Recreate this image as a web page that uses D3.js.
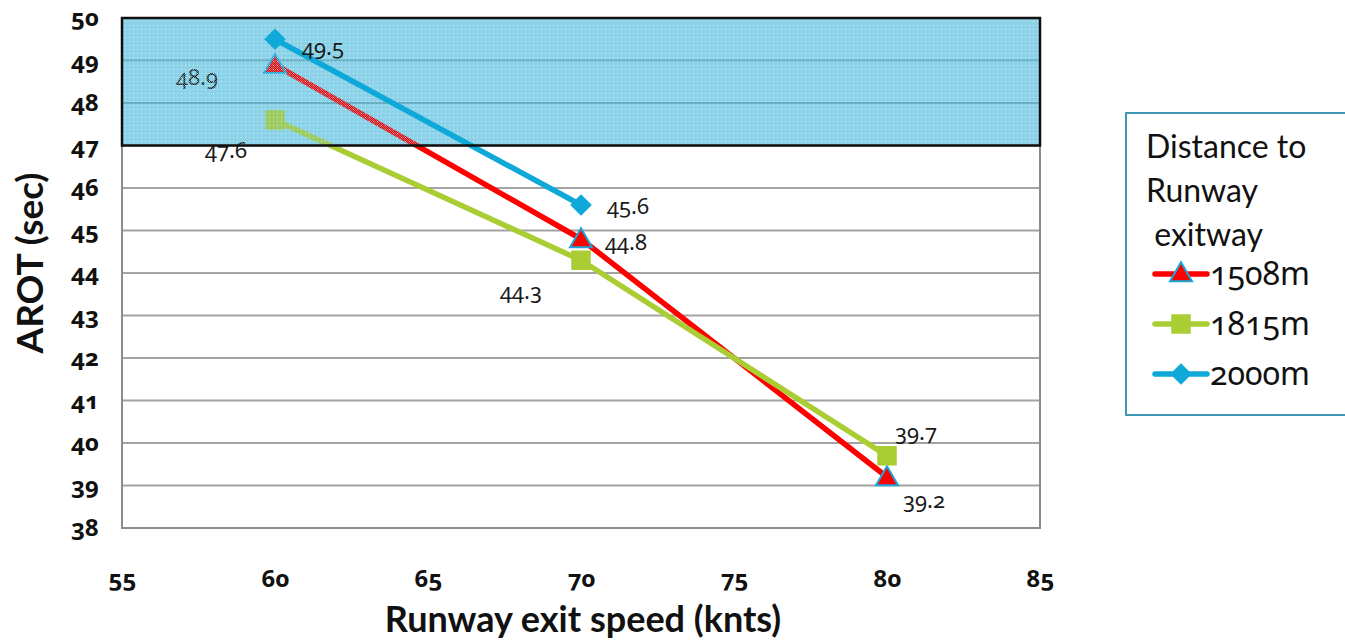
<!DOCTYPE html>
<html>
<head>
<meta charset="utf-8">
<script src="https://cdn.jsdelivr.net/npm/d3@7"></script>
<style>
  html, body { margin: 0; padding: 0; background: #fff; }
  svg { display: block; font-family: Lato, "Open Sans", "Noto Sans", sans-serif; }
  .num { font-family: "Noto Sans", "Open Sans", Lato, sans-serif; font-feature-settings: "onum" 1; font-variant-numeric: oldstyle-nums; }
</style>
</head>
<body>
<svg id="chart" width="1345" height="640"></svg>
<script>
// Runway exit speed (knots) on the x axis
const speeds = [60, 70, 80];
// AROT values (seconds) per distance to runway exitway
const seriesNames = ["1508m", "1815m", "2000m"];
const arot1508 = [48.9, 44.8, 39.2];
const arot1815 = [47.6, 44.3, 39.7];
const arot2000 = [49.5, 45.6];
// Axis ticks
const xTicks = [55, 60, 65, 70, 75, 80, 85];
const yTicks = [38, 39, 40, 41, 42, 43, 44, 45, 46, 47, 48, 49, 50];
// Highlighted band (seconds)
const bandRange = [47, 50];
const legendTitle = ["Distance to", "Runway", " exitway"];

const seriesValues = [arot1508, arot1815, arot2000];
const colors = ["#ff0000", "#a9cd32", "#0ea9d9"];
const symbols = [d3.symbolTriangle, d3.symbolSquare, d3.symbolDiamond2];
const symbolSizes = [210, 380, 300];
// label offsets (dx, dy) relative to each point
const labelOffsets = [
  [[-99, 20], [24, 11], [16, 31]],
  [[-70, 38], [-81, 39], [8, -16]],
  [[27, 16], [26, 9]]
];

const svg = d3.select("#chart");
const plotL = 122, plotR = 1040, plotT = 18, plotB = 528;
const x = d3.scaleLinear().domain([55, 85]).range([plotL, plotR]);
const y = d3.scaleLinear().domain([38, 50]).range([plotB, plotT]);
const bandY0 = y(bandRange[1]), bandY1 = y(bandRange[0]);

// band background
svg.append("rect").attr("x", plotL).attr("y", bandY0)
  .attr("width", plotR - plotL).attr("height", bandY1 - bandY0)
  .attr("fill", "#93d6ea");

// grid lines
svg.append("g").selectAll("line").data(yTicks.filter(v => v > 38 && v < 50)).join("line")
  .attr("x1", plotL).attr("x2", plotR)
  .attr("y1", d => y(d)).attr("y2", d => y(d))
  .attr("stroke", d => (d > bandRange[0] ? "#62a6b8" : "#a3a3a3")).attr("stroke-width", 2);

// plot frame
svg.append("rect").attr("x", plotL).attr("y", plotT)
  .attr("width", plotR - plotL).attr("height", plotB - plotT)
  .attr("fill", "none").attr("stroke", "#8c8c8c").attr("stroke-width", 2);

// y ticks
const yAxis = d3.axisLeft(y).tickValues(yTicks).tickSize(0).tickPadding(23).tickFormat(d3.format("d"));
const gy = svg.append("g").attr("transform", `translate(${plotL},0)`).call(yAxis);
gy.select(".domain").remove();
gy.selectAll("text").attr("class", "num").attr("font-size", 24).attr("font-weight", "bold").attr("fill", "#111");

// x ticks
const xAxis = d3.axisBottom(x).tickValues(xTicks).tickSize(0).tickPadding(42).tickFormat(d3.format("d"));
const gx = svg.append("g").attr("transform", `translate(0,${plotB})`).call(xAxis);
gx.select(".domain").remove();
gx.selectAll("text").attr("class", "num").attr("font-size", 24).attr("font-weight", "bold").attr("fill", "#111");

// axis titles
svg.append("text").attr("x", 583).attr("y", 632).attr("text-anchor", "middle")
  .attr("font-size", 36).attr("font-weight", "bold").attr("fill", "#111")
  .text("Runway exit speed (knts)");
svg.append("text").attr("transform", "translate(43,263) rotate(-90)").attr("text-anchor", "middle")
  .attr("font-size", 37).attr("font-weight", "bold").attr("fill", "#111")
  .text("AROT (sec)");

// series lines, markers and labels
const line = d3.line().x((d, i) => x(speeds[i])).y(d => y(d));
function drawSeries(s) {
  const vals = seriesValues[s];
  svg.append("path").datum(vals).attr("d", line)
    .attr("fill", "none").attr("stroke", colors[s]).attr("stroke-width", 5.5)
    .attr("stroke-linejoin", "round");
  svg.append("g").selectAll("path").data(vals).join("path")
    .attr("transform", (d, i) => `translate(${x(speeds[i])},${y(d) + (s === 0 ? 2 : 0)})`)
    .attr("d", d3.symbol().type(symbols[s]).size(symbolSizes[s]))
    .attr("fill", colors[s])
    .attr("stroke", s === 0 ? "#1aa6d6" : "none").attr("stroke-width", 2);
  svg.append("g").selectAll("text").data(vals).join("text")
    .attr("class", "num")
    .attr("x", (d, i) => x(speeds[i]) + labelOffsets[s][i][0])
    .attr("y", (d, i) => y(d) + labelOffsets[s][i][1])
    .attr("font-size", 22).attr("fill", "#1a1a1a")
    .text(d => d.toFixed(1));
}
drawSeries(0);
drawSeries(1);

// dotted overlay on the band
const defs = svg.append("defs");
const pat = defs.append("pattern").attr("id", "dots").attr("patternUnits", "userSpaceOnUse")
  .attr("width", 4).attr("height", 4);
[[0,0],[2,0],[1,1],[3,1],[0,2],[2,2],[1,3],[3,3]].forEach(([px, py]) =>
  pat.append("rect").attr("x", px).attr("y", py).attr("width", 1).attr("height", 1).attr("fill", "rgba(120,200,228,0.55)"));
pat.append("rect").attr("x", 1).attr("y", 1).attr("width", 1).attr("height", 1).attr("fill", "rgba(235,248,252,0.7)");
svg.append("rect")
  .attr("x", x(55)).attr("y", bandY0)
  .attr("width", x(85) - x(55)).attr("height", bandY1 - bandY0)
  .attr("fill", "url(#dots)");

drawSeries(2);

// band outline
svg.append("rect")
  .attr("x", x(55)).attr("y", bandY0)
  .attr("width", x(85) - x(55)).attr("height", bandY1 - bandY0)
  .attr("fill", "none").attr("stroke", "#111").attr("stroke-width", 2.5);

// legend
const lg = svg.append("g");
lg.append("rect").attr("x", 1126).attr("y", 113).attr("width", 240).attr("height", 302)
  .attr("fill", "#fff").attr("stroke", "#3f97b3").attr("stroke-width", 2);
lg.selectAll("text.title").data(legendTitle).join("text").attr("class", "title")
  .attr("x", 1146).attr("y", (d, i) => 158 + i * 44)
  .attr("font-size", 32).attr("fill", "#111").attr("xml:space", "preserve")
  .style("white-space", "pre").text(d => d);
seriesNames.forEach((name, s) => {
  const ly = 274 + s * 50;
  lg.append("line").attr("x1", 1155).attr("x2", 1207).attr("y1", ly).attr("y2", ly)
    .attr("stroke", colors[s]).attr("stroke-width", 5.5).attr("stroke-linecap", "round");
  lg.append("path").attr("transform", `translate(1181,${ly + (s === 0 ? 1 : 0)})`)
    .attr("d", d3.symbol().type(symbols[s]).size(symbolSizes[s]))
    .attr("fill", colors[s]).attr("stroke", s === 0 ? "#1aa6d6" : "none").attr("stroke-width", 2);
  lg.append("text").attr("class", "num").attr("x", 1210).attr("y", ly + 11)
    .attr("font-size", 32).attr("fill", "#111").text(name);
});
</script>
</body>
</html>
